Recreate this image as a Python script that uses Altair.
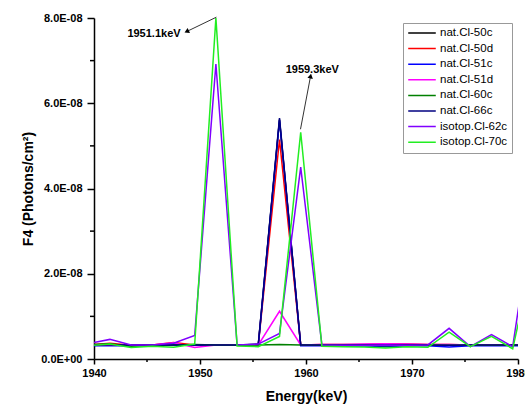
import altair as alt
import pandas as pd

energy = [1939.5, 1941.5, 1943.5, 1945.5, 1947.5, 1949.5, 1951.5, 1953.5, 1955.5, 1957.5, 1959.5,
          1961.5, 1963.5, 1965.5, 1967.5, 1969.5, 1971.5, 1973.5, 1975.5, 1977.5, 1979.5, 1981.5]

series_names = ["nat.Cl-50c", "nat.Cl-50d", "nat.Cl-51c", "nat.Cl-51d",
                "nat.Cl-60c", "nat.Cl-66c", "isotop.Cl-62c", "isotop.Cl-70c"]
series_colors = ["#000000", "#ff0000", "#0000ff", "#ff00ff",
                 "#008000", "#000080", "#8000ff", "#22ee22"]

# values in units of 1e-9 photons/cm^2
cl50c = [3.2, 3.3, 3.2, 3.3, 3.3, 3.3, 3.3, 3.3, 3.4, 56.2, 3.2, 3.3, 3.3, 3.3, 3.3, 3.3, 3.3, 3.2, 3.3, 3.3, 3.3, 3.3]
cl50d = [3.3, 3.7, 3.2, 3.3, 3.85, 3.3, 3.3, 3.3, 3.3, 51.5, 3.3, 3.4, 3.4, 3.4, 3.6, 3.5, 3.4, 3.4, 3.3, 3.3, 3.3, 3.3]
cl51c = [3.1, 3.1, 3.1, 3.2, 3.2, 3.2, 3.2, 3.2, 3.2, 56.0, 3.1, 3.1, 3.0, 3.1, 2.9, 3.1, 3.1, 2.8, 3.1, 3.1, 3.1, 3.1]
cl51d = [3.2, 3.3, 3.2, 3.3, 3.8, 2.7, 3.3, 3.3, 3.3, 11.2, 3.3, 3.4, 3.4, 3.5, 3.6, 3.5, 3.4, 3.4, 3.3, 3.3, 3.3, 3.3]
cl60c = [3.3, 3.6, 3.0, 3.2, 3.3, 3.4, 3.3, 3.2, 3.3, 3.4, 3.3, 3.2, 3.2, 3.2, 3.1, 3.2, 3.2, 3.2, 3.2, 3.2, 3.2, 3.2]
cl66c = [3.3, 3.3, 3.3, 3.3, 3.3, 3.3, 3.3, 3.3, 3.5, 56.5, 3.3, 3.3, 3.3, 3.3, 3.3, 3.3, 3.3, 3.2, 3.3, 3.3, 3.3, 3.3]
cl62c = [3.6, 4.6, 3.3, 3.3, 3.7, 5.5, 69.2, 3.3, 3.5, 6.0, 45.0, 3.3, 3.2, 3.2, 3.3, 3.2, 3.3, 7.2, 2.9, 5.7, 2.9, 36.0]
cl70c = [3.1, 3.5, 2.7, 3.0, 2.75, 3.5, 80.0, 3.05, 2.9, 5.3, 53.2, 3.0, 2.9, 2.8, 2.6, 2.9, 2.75, 6.3, 2.9, 5.3, 2.4, 25.0]

all_values = [cl50c, cl50d, cl51c, cl51d, cl60c, cl66c, cl62c, cl70c]

ann_text = ["1951.1keV", "1959.3keV"]
ann_x = [1945.66, 1960.59]
ann_y = [7.62e-8, 6.78e-8]
arrow_x1 = [1951.55, 1959.48]
arrow_y1 = [8.02e-8, 5.39e-8]
arrow_x2 = [1948.81, 1960.42]
arrow_y2 = [7.69e-8, 6.62e-8]
arrow_angle = [244, 11]

x_major = [1940, 1950, 1960, 1970, 1980]
x_minor = [1945, 1955, 1965, 1975]
y_major = [0, 2e-8, 4e-8, 6e-8, 8e-8]
y_minor = [1e-8, 3e-8, 5e-8, 7e-8]

rows = []
for name, vals in zip(series_names, all_values):
    for e, v in zip(energy, vals):
        rows.append({"energy": e, "flux": v * 1e-9, "series": name})
df = pd.DataFrame(rows)

W, H = 424, 341
FONT = "Liberation Sans"

xscale = alt.Scale(domain=[1940, 1980], nice=False, zero=False)
yscale = alt.Scale(domain=[0, 8e-8], nice=False)

lines = alt.Chart(df).mark_line(strokeWidth=1.5, clip=True).encode(
    x=alt.X("energy:Q", scale=xscale,
            axis=alt.Axis(values=x_major, title="Energy(keV)", format="d",
                          labelFontSize=11, labelFontWeight="bold", labelFont=FONT,
                          titleFont=FONT, titleFontSize=14, titleFontWeight="bold",
                          titlePadding=11, tickSize=5, labelPadding=3, labelFlush=False)),
    y=alt.Y("flux:Q", scale=yscale,
            axis=alt.Axis(values=y_major, title="F4 (Photons/cm²)",
                          labelExpr="datum.value == 0 ? '0.0E+00' : format(datum.value*1e8, '.1f') + 'E-08'",
                          labelFontSize=11, labelFontWeight="bold", labelFont=FONT,
                          titleFont=FONT, titleFontSize=14, titleFontWeight="bold",
                          titlePadding=5, tickSize=7, labelPadding=5)),
    color=alt.Color("series:N", sort=series_names,
                    scale=alt.Scale(domain=series_names, range=series_colors),
                    legend=alt.Legend(title=None, orient="none", legendX=309, legendY=5,
                                      symbolType="stroke", symbolSize=760, symbolStrokeWidth=1.5,
                                      clipHeight=12, rowPadding=3.6, padding=4,
                                      labelFont=FONT, labelFontSize=11.5, labelOffset=3,
                                      strokeColor="#999999", fillColor="white")),
)

xminor_df = pd.DataFrame({"v": x_minor})
yminor_df = pd.DataFrame({"v": y_minor})
xminor = alt.Chart(xminor_df).mark_rule(color="black", strokeWidth=1.5).encode(
    x=alt.X("v:Q", scale=xscale), y=alt.value(H), y2=alt.value(H + 3))
yminor = alt.Chart(yminor_df).mark_rule(color="black", strokeWidth=1.5).encode(
    y=alt.Y("v:Q", scale=yscale), x=alt.value(-4), x2=alt.value(0))

ann_df = pd.DataFrame({"t": ann_text, "x": ann_x, "y": ann_y})
arr_df = pd.DataFrame({"x1": arrow_x1, "y1": arrow_y1, "x2": arrow_x2, "y2": arrow_y2, "a": arrow_angle})

texts = alt.Chart(ann_df).mark_text(font=FONT, fontSize=11, fontWeight="bold", color="black").encode(
    x=alt.X("x:Q", scale=xscale), y=alt.Y("y:Q", scale=yscale), text="t:N")
arrows = alt.Chart(arr_df).mark_rule(color="#333333", strokeWidth=1).encode(
    x=alt.X("x1:Q", scale=xscale), y=alt.Y("y1:Q", scale=yscale),
    x2="x2:Q", y2="y2:Q")
heads = alt.Chart(arr_df).mark_point(shape="triangle", filled=True, size=30, color="black", opacity=1).encode(
    x=alt.X("x2:Q", scale=xscale), y=alt.Y("y2:Q", scale=yscale),
    angle=alt.Angle("a:Q", scale=None))

chart = alt.layer(lines, xminor, yminor, arrows, heads, texts).properties(
    width=W, height=H,
    padding={"left": 94, "top": 18, "right": 7, "bottom": 45},
    autosize=alt.AutoSizeParams(type="none"),
).configure_view(stroke=None).configure_axis(
    domainColor="black", domainWidth=1.5, tickColor="black", tickWidth=1.5,
    labelColor="black", titleColor="black", grid=False,
)

chart.save("out.html", embed_options={"renderer": "svg", "actions": False})
